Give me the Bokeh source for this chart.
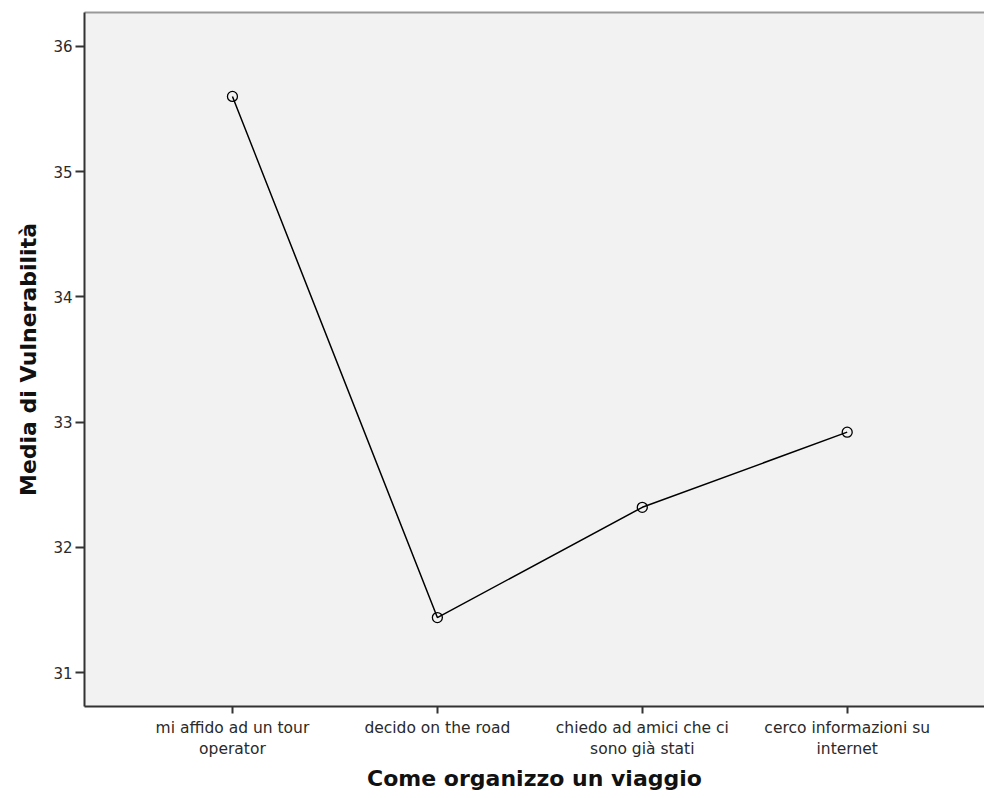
from bokeh.plotting import figure
from bokeh.models import Range1d, FixedTicker, LinearAxis
from bokeh.embed import file_html
from bokeh.resources import INLINE

categories = ["mi affido ad un tour\noperator", "decido on the road",
              "chiedo ad amici che ci\nsono già stati", "cerco informazioni su\ninternet"]
means = [35.60, 31.44, 32.32, 32.92]
y_ticks = [31, 32, 33, 34, 35, 36]

xs = list(range(1, len(categories) + 1))

p = figure(width=984, height=798, output_backend="svg", toolbar_location=None,
           x_range=Range1d(0.278, 4.67), y_range=Range1d(30.73, 36.27),
           min_border_left=84, min_border_top=12, min_border_right=0, min_border_bottom=92)
p.background_fill_color = "#f2f2f2"
p.border_fill_color = "white"
p.outline_line_color = None
p.grid.visible = False

p.line(xs, means, line_color="black", line_width=1.5)
p.scatter(xs, means, marker="circle", size=10, fill_color=None, line_color="black", line_width=1.3)

ax = p.xaxis[0]
ax.ticker = FixedTicker(ticks=xs)
ax.major_label_overrides = {x: c for x, c in zip(xs, categories)}
ax.axis_line_color = "#333333"
ax.axis_line_width = 2
ax.major_tick_out = 7
ax.major_tick_in = 0
ax.major_tick_line_color = "#333333"
ax.major_tick_line_width = 2
ax.minor_tick_line_color = None
ax.major_label_text_font = "DejaVu Sans"
ax.major_label_text_font_size = "15.5px"
ax.major_label_text_color = "#2a2a2a"
ax.major_label_standoff = 5
ax.axis_label = "Come organizzo un viaggio"
ax.axis_label_text_font = "DejaVu Sans"
ax.axis_label_text_font_size = "22px"
ax.axis_label_text_font_style = "bold"
ax.axis_label_text_color = "#111111"
ax.axis_label_standoff = 5

ay = p.yaxis[0]
ay.ticker = FixedTicker(ticks=y_ticks)
ay.axis_line_color = "#333333"
ay.axis_line_width = 2
ay.major_tick_out = 9
ay.major_tick_in = 0
ay.major_tick_line_color = "#333333"
ay.major_tick_line_width = 2
ay.minor_tick_line_color = None
ay.major_label_text_font = "DejaVu Sans"
ay.major_label_text_font_size = "15px"
ay.major_label_text_color = "#2a2a2a"
ay.major_label_standoff = 3
ay.axis_label = "Media di Vulnerabilità"
ay.axis_label_text_font = "DejaVu Sans"
ay.axis_label_text_font_size = "22px"
ay.axis_label_text_font_style = "bold"
ay.axis_label_text_color = "#111111"
ay.axis_label_standoff = 9

top = LinearAxis(ticker=FixedTicker(ticks=[]), major_label_text_font_size="0px",
                 axis_line_color="#999999", axis_line_width=2,
                 major_tick_line_color=None, minor_tick_line_color=None)
p.add_layout(top, "above")

open("out.html", "w").write(file_html(p, INLINE))
